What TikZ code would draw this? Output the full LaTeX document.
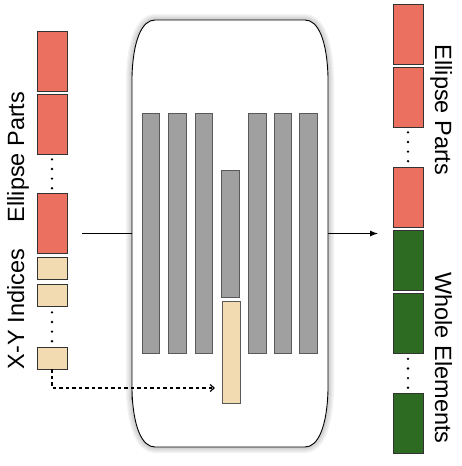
\documentclass[tikz,border=0pt]{standalone}
\usepackage{fontspec}
\setmainfont{Liberation Sans}
\usepackage{xcolor}
\usetikzlibrary{positioning, arrows.meta}

\definecolor{partred}{HTML}{EB7060}
\definecolor{idxbeige}{HTML}{F2DBB0}
\definecolor{wholegreen}{HTML}{2D6A22}
\definecolor{bargray}{HTML}{A0A0A0}

\tikzset{
    cell/.style={draw=black!80, line width=0.8pt, inner sep=0pt, minimum width=30pt},
    partcell/.style={cell, fill=partred, minimum height=60pt},
    idxcell/.style={cell, fill=idxbeige, minimum height=22pt},
    wholecell/.style={cell, fill=wholegreen, minimum height=60pt},
    bar/.style={draw=black!65, line width=0.8pt, fill=bargray, inner sep=0pt, minimum width=17.5pt},
    dots/.style={line width=2.6pt, line cap=round, dash pattern=on 0pt off 9.6pt},
    lbl/.style={font=\fontsize{23.5}{24}\selectfont, anchor=base, inner sep=0pt}
}

\def\capsulepath{(132,400) -- (132,77) .. controls (133,40) and (142,20) .. (155,20) -- (305,20) .. controls (318,20) and (327,40) .. (328,77) -- (328,390) .. controls (327,427) and (318,447) .. (305,447) -- (155,447) .. controls (142,447) and (133,427) .. (132,390) -- cycle}

\begin{document}
\begin{tikzpicture}[x=1pt, y=-1pt]
        \useasboundingbox (0,0) rectangle (461,466);

        % core block with soft shadow
        \foreach \w in {12,9,6,3}
            \draw[black, opacity=0.05, line width=\w pt] \capsulepath;
        \draw[fill=white, line width=0.9pt] \capsulepath;
        \node[minimum width=196pt, minimum height=427pt, inner sep=0pt] (core) at (230,233.5) {};

        % left inputs
        \node[partcell] (e1) at (52,61) {};
        \node[partcell] (e2) at (52,124) {};
        \node[partcell] (e3) at (52,223) {};
        \node[idxcell] (x1) at (52,268) {};
        \node[idxcell] (x2) at (52,295) {};
        \node[idxcell] (x3) at (52,358) {};
        \draw[dots] ([yshift=-5pt]e2.south) -- (e3.north);
        \draw[dots] ([yshift=-6pt]x2.south) -- (x3.north);

        \node[lbl, rotate=90] (lblparts) at (24,157) {Ellipse Parts};
        \node[lbl, rotate=90] (lblidx) at (24,309) {X-Y Indices};

        % bars inside the block
        \foreach \i/\x in {1/151, 2/177.5, 3/204, 5/257.5, 6/283, 7/308.5}
            \node[bar, minimum height=240pt] (b\i) at (\x,233.5) {};
        \node[bar, minimum height=127pt] (b4) at (230.5,233.5) {};
        \node[bar, fill=idxbeige, minimum width=18pt, minimum height=102pt] (yb) at (231,352) {};

        % right outputs
        \node[partcell] (r1) at (408,34) {};
        \node[partcell] (r2) at (408,97) {};
        \node[partcell] (r3) at (408,197) {};
        \node[wholecell] (g1) at (408,260.5) {};
        \node[wholecell] (g2) at (408,323.5) {};
        \node[wholecell] (g3) at (408,423) {};
        \draw[dots] ([yshift=-5pt]r2.south) -- (r3.north);
        \draw[dots] ([yshift=-5pt]g2.south) -- (g3.north);

        \node[lbl, rotate=-90] (lblout) at (435,110) {Ellipse Parts};
        \node[lbl, rotate=-90] (lblwhole) at (435,358) {Whole Elements};

        % connectors
        \coordinate (in) at (82,233.5);
        \coordinate (out) at (378,233.5);
        \coordinate (tip) at (215,388);
        \draw[line width=1pt] (in) -- (core.west);
        \draw[line width=1pt, -{Latex[length=8pt, width=6pt]}] (core.east) -- (out);
        \draw[line width=1.2pt, dash pattern=on 3.5pt off 3pt, -{Straight Barb[length=4pt, width=7pt]}] (x3.south) |- (tip);
    \end{tikzpicture}
\end{document}
